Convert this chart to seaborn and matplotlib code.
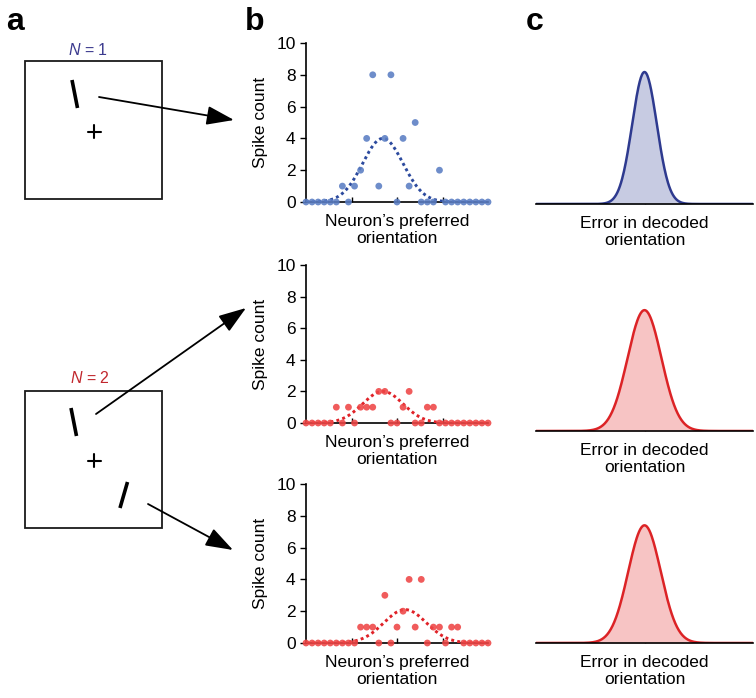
import numpy as np
import pandas as pd
import matplotlib
matplotlib.use("Agg")
import matplotlib.pyplot as plt
import seaborn as sns
from matplotlib.patches import Rectangle, FancyArrowPatch

sns.set_theme(style="white")
plt.rcParams['font.family'] = ['Liberation Sans', 'DejaVu Sans']
plt.rcParams['text.color'] = 'black'
plt.rcParams['axes.labelcolor'] = 'black'
plt.rcParams['xtick.color'] = 'black'
plt.rcParams['ytick.color'] = 'black'
plt.rcParams['mathtext.fontset'] = 'custom'
plt.rcParams['mathtext.it'] = 'Liberation Sans:italic'
plt.rcParams['mathtext.rm'] = 'Liberation Sans'

# ---------------- data ----------------
pref_orient = np.arange(-90, 91, 6)  # 31 neurons' preferred orientations
counts_n1 = [0, 0, 0, 0, 0, 0, 1, 0, 1, 2, 4, 8, 1, 4, 8, 0, 4, 1, 5, 0,
             0, 0, 2, 0, 0, 0, 0, 0, 0, 0, 0]
counts_n2_item1 = [0, 0, 0, 0, 0, 1, 0, 1, 0, 1, 1, 1, 2, 2, 0, 0, 1, 2, 0, 0,
                   1, 1, 0, 0, 0, 0, 0, 0, 0, 0, 0]
counts_n2_item2 = [0, 0, 0, 0, 0, 0, 0, 0, 0, 1, 1, 1, 0, 3, 0, 1, 2, 4, 1, 4,
                   0, 1, 1, 0, 1, 1, 0, 0, 0, 0, 0]
# tuning-curve (population response) parameters
tuning_amp = [4.0, 2.0, 2.1]
tuning_center = [-14, -14, 8]
tuning_width = [20, 20, 21]
# decoded-error distributions (panel c): peak height (axes fraction) and width
err_peak = [0.83, 0.76, 0.74]
err_width = [10.2, 14.0, 13.5]

y_ticks = [0, 2, 4, 6, 8, 10]
x_ticks = [-45, 0, 45]

blue_dot = "#5a7dc3"
blue_line = "#2c4a9e"
red_dot = "#ee4545"
red_line = "#e02228"
c_blue_line = "#2e3a8f"
c_blue_fill = "#c7cbe2"
c_red_line = "#dc2326"
c_red_fill = "#f7c4c4"

W, H = 756, 698
fig = plt.figure(figsize=(W / 100, H / 100), dpi=100)


def rect(left, top, right, bottom):
    return [left / W, 1 - bottom / H, (right - left) / W, (bottom - top) / H]


FS = 12.5

# ---------------- panel b ----------------
b_rows = [(43, 202), (265, 423), (484, 643)]
counts_all = [counts_n1, counts_n2_item1, counts_n2_item2]
dot_cols = [blue_dot, red_dot, red_dot]
line_cols = [blue_line, red_line, red_line]
xx = np.linspace(-90, 90, 361)
for i, (top, bot) in enumerate(b_rows):
    ax = fig.add_axes(rect(306, top, 488, bot))
    df = pd.DataFrame({"x": pref_orient, "y": counts_all[i]})
    curve = tuning_amp[i] * np.exp(-0.5 * ((xx - tuning_center[i]) / tuning_width[i]) ** 2)
    cdf = pd.DataFrame({"x": xx, "y": curve})
    sns.lineplot(data=cdf, x="x", y="y", ax=ax, color=line_cols[i], lw=2.1,
                 linestyle=(0, (1, 1.1)), zorder=3)
    sns.scatterplot(data=df, x="x", y="y", ax=ax, color=dot_cols[i], s=24,
                    alpha=0.88, edgecolor="none", zorder=4, clip_on=False)
    ax.set_xlim(-90, 90)
    ax.set_ylim(0, 10)
    ax.set_yticks(y_ticks)
    ax.set_xticks(x_ticks)
    ax.set_xticklabels([])
    ax.tick_params(axis="y", direction="out", length=4.5, width=1, labelsize=FS,
                   pad=3, left=True, color="black", labelcolor="black")
    ax.tick_params(axis="x", direction="in", length=3.5, width=1, bottom=True,
                   color="black")
    for s in ["top", "right"]:
        ax.spines[s].set_visible(False)
    for s in ["left", "bottom"]:
        ax.spines[s].set_color("black")
        ax.spines[s].set_linewidth(1.2)
    ax.set_ylabel("Spike count", fontsize=FS, labelpad=6, color="black")
    ax.set_xlabel("Neuron\u2019s preferred\norientation", fontsize=FS, labelpad=5,
                  linespacing=1.15, color="black")
    ax.set_facecolor("none")

# ---------------- panel c ----------------
c_rows = [(45, 204), (272, 431), (484, 643)]
c_lines = [c_blue_line, c_red_line, c_red_line]
c_fills = [c_blue_fill, c_red_fill, c_red_fill]
for i, (top, bot) in enumerate(c_rows):
    ax = fig.add_axes(rect(536, top, 753, bot))
    dens = err_peak[i] * np.exp(-0.5 * (xx / err_width[i]) ** 2)
    ddf = pd.DataFrame({"x": xx, "y": dens})
    ax.fill_between(xx, 0, dens, color=c_fills[i], lw=0, zorder=1)
    sns.lineplot(data=ddf, x="x", y="y", ax=ax, color=c_lines[i], lw=1.8, zorder=2)
    ax.set_xlim(-90, 90)
    ax.set_ylim(0, 1)
    ax.set_xticks([0])
    ax.set_xticklabels([])
    ax.set_yticks([])
    ax.tick_params(axis="x", direction="in", length=5.5, width=1, bottom=True,
                   color="black")
    for s in ["top", "right", "left"]:
        ax.spines[s].set_visible(False)
    ax.spines["bottom"].set_color("black")
    ax.spines["bottom"].set_linewidth(1.2)
    ax.spines["bottom"].set_zorder(3)
    ax.set_ylabel("")
    ax.set_xlabel("Error in decoded\norientation", fontsize=FS, labelpad=5,
                  linespacing=1.15, color="black")
    ax.set_facecolor("none")

# ---------------- panel a (schematic) + arrows ----------------
ov = fig.add_axes([0, 0, 1, 1], zorder=10)
ov.set_xlim(0, W)
ov.set_ylim(H, 0)
ov.axis("off")
ov.patch.set_alpha(0)

for (l, t, r, b) in [(25, 61, 162, 199), (25, 391, 162, 528)]:
    ov.add_patch(Rectangle((l, t), r - l, b - t, fill=False, ec="#1a1a1a", lw=1.3))

ov.text(88, 50, r"$\it{N}$ = 1", color="#3b3a8e", fontsize=11.5, ha="center", va="center")
ov.text(90, 378, r"$\it{N}$ = 2", color="#c1272d", fontsize=11.5, ha="center", va="center")

bars = [((72, 80), (77.5, 108)), ((71, 408), (76.5, 436)), ((127.5, 482), (120, 508))]
for (p0, p1) in bars:
    ov.plot([p0[0], p1[0]], [p0[1], p1[1]], color="black", lw=2.6, solid_capstyle="butt")
for (cx, cy) in [(94.3, 131.5), (94.3, 460.7)]:
    ov.plot([cx - 6.5, cx + 6.5], [cy, cy], color="black", lw=1.5)
    ov.plot([cx, cx], [cy - 6.5, cy + 6.5], color="black", lw=1.5)

arrows = [((99, 97), (234, 120)), ((96, 414), (246, 308)), ((148, 504), (233, 550))]
for (p0, p1) in arrows:
    ov.add_patch(FancyArrowPatch(p0, p1, arrowstyle="-|>,head_length=1.3,head_width=0.45",
                                 mutation_scale=13, color="black", lw=1.3,
                                 shrinkA=0, shrinkB=0))

for letter, x in [("a", 6), ("b", 245), ("c", 526)]:
    ov.text(x, 30, letter, fontsize=23, fontweight="bold", ha="left", va="baseline",
            color="black")

fig.savefig("out.png", dpi=100)
